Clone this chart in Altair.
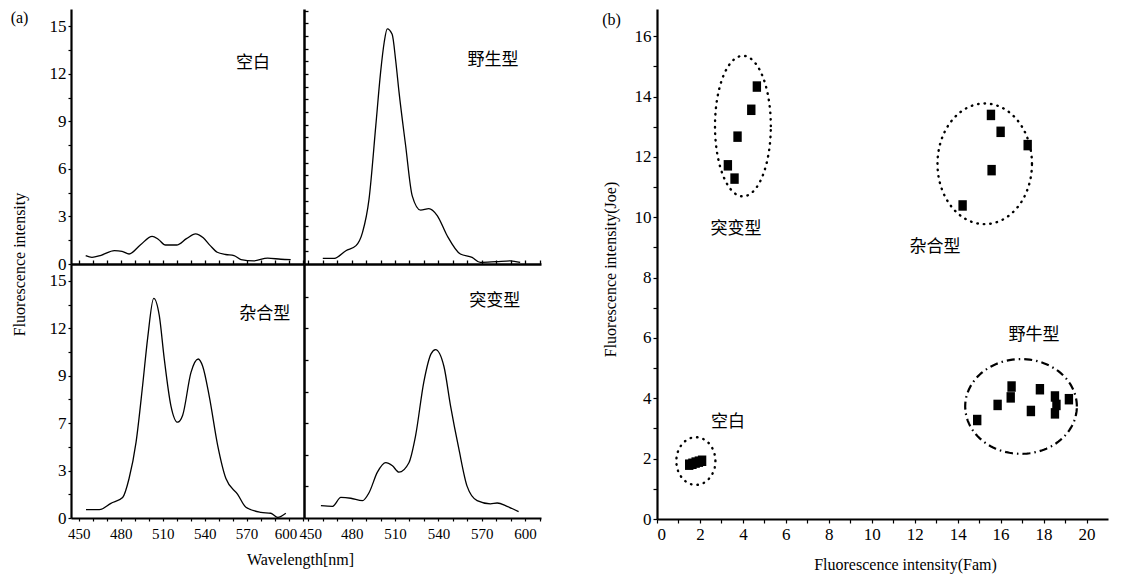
import altair as alt
import pandas as pd
import numpy as np

# ---------------- panel (a) spectra ----------------
blank_wl = [455, 459.5, 466, 475.5, 481, 486, 494, 502.5, 507, 512, 520, 527, 533.5, 539, 544, 549, 555, 561, 566, 575, 585, 594.5, 601.5]
blank_int = [0.53, 0.42, 0.55, 0.84, 0.8, 0.63, 1.2, 1.75, 1.55, 1.2, 1.2, 1.6, 1.9, 1.65, 1.16, 0.74, 0.6, 0.53, 0.28, 0.2, 0.37, 0.3, 0.27]

wild_wl = [460, 468, 476, 483, 487.5, 492, 496.7, 500, 502.5, 504.6, 508, 510.5, 512.7, 517.3, 521.9, 527.7, 533.4, 539.2, 546, 555.2, 563.3, 569, 580, 589.8, 596.6]
wild_int = [0.36, 0.36, 0.84, 1.16, 2.0, 4.1, 8.75, 12.1, 14.0, 14.85, 14.5, 12.8, 10.9, 7.5, 4.3, 3.4, 3.5, 3.06, 1.8, 0.63, 0.42, 0.1, 0.15, 0.2, 0.1]

het_wl = [455.2, 464.8, 473, 481.4, 486, 491, 495.7, 499.3, 503.6, 507.6, 511.1, 515.9, 520.7, 524.3, 530.2, 535.4, 538.6, 543.3, 549.3, 555.2, 563.6, 569.5, 580.2, 587.3, 592.2, 598]
het_int = [0.53, 0.53, 0.93, 1.3, 2.5, 4.8, 8.4, 11.4, 13.9, 12.8, 10.1, 7.1, 6.06, 6.5, 9.2, 10.06, 9.6, 7.7, 4.6, 2.5, 1.5, 0.68, 0.36, 0.3, 0.04, 0.3]

mut_wl = [458.7, 466.8, 472.5, 479.4, 487.5, 492, 497.8, 503.6, 508.2, 512.7, 519.6, 524.2, 529.9, 535, 538, 543.8, 548.4, 554.1, 559.9, 566.8, 576, 580.7, 587.5, 595.5]
mut_int = [0.78, 0.74, 1.3, 1.25, 1.1, 1.6, 2.9, 3.5, 3.3, 2.9, 3.5, 5.2, 8.6, 10.4, 10.65, 9.6, 7.1, 4.4, 2.0, 1.1, 0.9, 0.95, 0.74, 0.4]

panel_labels = ["空白", "野生型", "杂合型", "突变型"]
panel_label_x = [574.5, 577.8, 583, 579]
panel_label_y = [12.66, 12.9, 12.9, 13.7]

wl_ticks = list(range(450, 611, 10))
y_ticks = [i * 1.5 for i in range(11)]
divider_top_ticks = [round(0.8 * i, 2) for i in range(1, 21)]
divider_bot_ticks = list(range(2, 15, 2))

# ---------------- panel (b) scatter ----------------
grp_names = ["突变型", "杂合型", "野牛型", "空白"]
mut_x = [4.65, 4.39, 3.75, 3.30, 3.61]
mut_y = [14.33, 13.56, 12.67, 11.72, 11.28]
het_x = [15.55, 16.0, 17.26, 15.58, 14.23]
het_y = [13.39, 12.83, 12.39, 11.56, 10.39]
wt_x = [14.91, 15.86, 16.51, 16.47, 17.41, 17.83, 18.53, 18.6, 18.53, 19.18]
wt_y = [3.28, 3.78, 4.39, 4.03, 3.58, 4.3, 4.06, 3.78, 3.5, 3.97]
bl_x = [1.5, 1.65, 1.8, 1.95, 2.1]
bl_y = [1.8, 1.83, 1.87, 1.9, 1.93]

grp_label_x = [3.68, 12.94, 17.55, 3.31]
grp_label_y = [9.61, 9.01, 6.1, 3.21]

# ellipse outlines: centre x, centre y, radius x, radius y
ell_dot_cx = [4.0, 15.26, 1.81]
ell_dot_cy = [13.02, 11.77, 1.92]
ell_dot_rx = [1.3, 2.2, 0.91]
ell_dot_ry = [2.33, 2.0, 0.79]
ell_dd_cx = [16.95]
ell_dd_cy = [3.73]
ell_dd_rx = [2.6]
ell_dd_ry = [1.57]

SERIF = "Liberation Serif"
CJK = "Noto Sans CJK SC"


def spec_df(wl, it):
    return pd.DataFrame({"wl": wl, "inten": it})


def label_df(x, y, t):
    return pd.DataFrame({"x": [x], "y": [y], "t": [t]})


def ellipse_df(cx, cy, rx, ry):
    rows = []
    t = np.linspace(0, 2 * np.pi, 121)
    for g, (a, b, c, d) in enumerate(zip(cx, cy, rx, ry)):
        for k, tt in enumerate(t):
            rows.append({"g": g, "k": k, "x": a + c * np.cos(tt), "y": b + d * np.sin(tt)})
    return pd.DataFrame(rows)


xs_l = alt.Scale(domain=[444.5, 611], nice=False, zero=False)
xs_r = alt.Scale(domain=[447, 611], nice=False, zero=False)
ys_t = alt.Scale(domain=[0, 16.1], nice=False, zero=False)
ys_b = alt.Scale(domain=[0, 16.07], nice=False, zero=False)


def line(df):
    return alt.Chart(df).mark_line(color="black", strokeWidth=1.3, interpolate="monotone")


def text(df):
    return alt.Chart(df).mark_text(font=CJK, fontSize=17, color="black").encode(text="t:N")


y_left = dict(orient="left", values=y_ticks, labelFontSize=17, labelPadding=2,
              tickSize=3, tickWidth=1.2, domainWidth=2.2)
x_bottom = dict(orient="bottom", values=wl_ticks,
                labelExpr="datum.value % 30 == 0 ? datum.label : ''",
                labelFontSize=15, tickSize=3, tickWidth=1.2, labelPadding=5, domainWidth=2.2)
divider = dict(labels=False, title=None, tickSize=4, tickWidth=1.3, domainWidth=2.5)

# top-left: blank
tl = alt.layer(
    line(spec_df(blank_wl, blank_int)).encode(
        x=alt.X("wl:Q", scale=xs_l, axis=None),
        y=alt.Y("inten:Q", scale=ys_t, axis=alt.Axis(
            labelExpr="datum.value % 3 == 0 ? datum.label : ''",
            title="(a)", titleAngle=0, titleX=-52, titleY=8, titleAlign="center",
            titleBaseline="middle", titleFontSize=16, **y_left))),
    text(label_df(panel_label_x[0], panel_label_y[0], panel_labels[0])).encode(
        x=alt.X("x:Q", scale=xs_l, axis=None),
        y=alt.Y("y:Q", scale=ys_t, axis=alt.Axis(orient="right", values=divider_top_ticks, **divider))),
).resolve_axis(y="independent").properties(width=233, height=255)

# top-right: wild type
tr = alt.layer(
    line(spec_df(wild_wl, wild_int)).encode(
        x=alt.X("wl:Q", scale=xs_r, axis=None),
        y=alt.Y("inten:Q", scale=ys_t, axis=None)),
    text(label_df(panel_label_x[1], panel_label_y[1], panel_labels[1])).encode(
        x=alt.X("x:Q", scale=xs_r, axis=None),
        y=alt.Y("y:Q", scale=ys_t, axis=None)),
).properties(width=237, height=255)

# bottom-left: heterozygous
bl = alt.layer(
    line(spec_df(het_wl, het_int)).encode(
        x=alt.X("wl:Q", scale=xs_l, axis=alt.Axis(
            title="Wavelength[nm]", titleX=229, titleY=41, titleAlign="center",
            titleBaseline="middle", titleFontSize=16,
            labelOffset={"condition": {"test": "datum.value == 600", "value": -3}, "value": 0},
            **x_bottom)),
        y=alt.Y("inten:Q", scale=ys_b, axis=alt.Axis(
            labelExpr="datum.value == 6 ? '7' : (datum.value % 3 == 0 ? datum.label : '')",
            title="Fluorescence intensity", titleX=-52, titleY=0, titleAlign="center",
            titleBaseline="middle", titleAngle=270, titleFontSize=16, **y_left))),
    text(label_df(panel_label_x[2], panel_label_y[2], panel_labels[2])).encode(
        x=alt.X("x:Q", scale=xs_l, axis=alt.Axis(orient="top", values=wl_ticks, **divider)),
        y=alt.Y("y:Q", scale=ys_b, axis=alt.Axis(orient="right", values=divider_bot_ticks, **divider))),
).resolve_axis(x="independent", y="independent").properties(width=233, height=254)

# bottom-right: mutant
br = alt.layer(
    line(spec_df(mut_wl, mut_int)).encode(
        x=alt.X("wl:Q", scale=xs_r, axis=alt.Axis(
            title=None,
            labelOffset={"condition": {"test": "datum.value == 450", "value": 2}, "value": 0},
            **x_bottom)),
        y=alt.Y("inten:Q", scale=ys_b, axis=None)),
    text(label_df(panel_label_x[3], panel_label_y[3], panel_labels[3])).encode(
        x=alt.X("x:Q", scale=xs_r, axis=alt.Axis(orient="top", values=wl_ticks, **divider)),
        y=alt.Y("y:Q", scale=ys_b, axis=None)),
).resolve_axis(x="independent").properties(width=237, height=254)

panel_a = alt.concat(tl, tr, bl, br, columns=2, spacing=0, bounds="flush")

# ---------------- build panel (b) ----------------
pts_df = pd.DataFrame({
    "x": mut_x + het_x + wt_x + bl_x,
    "y": mut_y + het_y + wt_y + bl_y,
})
xs_b = alt.Scale(domain=[0, 21], nice=False, zero=False)
ys_b2 = alt.Scale(domain=[0, 16.9], nice=False, zero=False)

pts = alt.Chart(pts_df).mark_point(
    shape="M-0.8,-1L0.8,-1L0.8,1L-0.8,1Z", filled=True, size=110, color="black", opacity=1
).encode(
    x=alt.X("x:Q", scale=xs_b, axis=alt.Axis(
        orient="bottom", values=list(range(0, 21)),
        labelExpr="datum.value % 2 == 0 ? datum.label : ''",
        title="Fluorescence intensity(Fam)", titleX=248, titleY=45, titleAlign="center",
        titleBaseline="middle", titleFontSize=16, labelFontSize=17, tickSize=4,
        tickWidth=1.2, labelPadding=3, domainWidth=2.2)),
    y=alt.Y("y:Q", scale=ys_b2, axis=alt.Axis(
        orient="left", values=list(range(0, 17)),
        labelExpr="datum.value % 2 == 0 ? datum.label : ''",
        title="Fluorescence intensity(Joe)", titleX=-47, titleY=260, titleAlign="center",
        titleBaseline="middle", titleAngle=270, titleFontSize=16, labelFontSize=17,
        tickSize=4, tickWidth=1.2, labelPadding=2, domainWidth=2.2)),
)

ell_dot = alt.Chart(ellipse_df(ell_dot_cx, ell_dot_cy, ell_dot_rx, ell_dot_ry)).mark_line(
    color="black", strokeWidth=2.4, strokeDash=[0.5, 6], strokeCap="round"
).encode(
    x=alt.X("x:Q", scale=xs_b, axis=None),
    y=alt.Y("y:Q", scale=ys_b2, axis=None),
    detail="g:N", order="k:Q",
)
ell_dd = alt.Chart(ellipse_df(ell_dd_cx, ell_dd_cy, ell_dd_rx, ell_dd_ry)).mark_line(
    color="black", strokeWidth=2.2, strokeDash=[8, 4, 1.5, 4]
).encode(
    x=alt.X("x:Q", scale=xs_b, axis=None),
    y=alt.Y("y:Q", scale=ys_b2, axis=None),
    detail="g:N", order="k:Q",
)
lab_df = pd.DataFrame({"x": grp_label_x, "y": grp_label_y, "t": grp_names})
labs = alt.Chart(lab_df).mark_text(font=CJK, fontSize=17, color="black").encode(
    x=alt.X("x:Q", scale=xs_b, axis=alt.Axis(
        orient="top", domain=False, ticks=False, labels=False, title="(b)",
        titleX=-46, titleY=10, titleAngle=0, titleAlign="center", titleBaseline="middle",
        titleFontSize=16)),
    y=alt.Y("y:Q", scale=ys_b2, axis=None),
    text="t:N",
)

panel_b = alt.layer(pts, ell_dot, ell_dd, labs).resolve_axis(
    x="independent", y="independent").properties(width=451, height=510)

chart = alt.hconcat(panel_a, panel_b, spacing=60).properties(
    padding={"left": 2, "top": 1, "right": 4, "bottom": 4}
).configure_view(stroke=None).configure_axis(
    grid=False, domainColor="black", tickColor="black", labelColor="black",
    titleColor="black", labelFont=SERIF, titleFont=SERIF, titleFontWeight="normal"
)

chart.save("out.html", embed_options={"renderer": "svg", "actions": False})
